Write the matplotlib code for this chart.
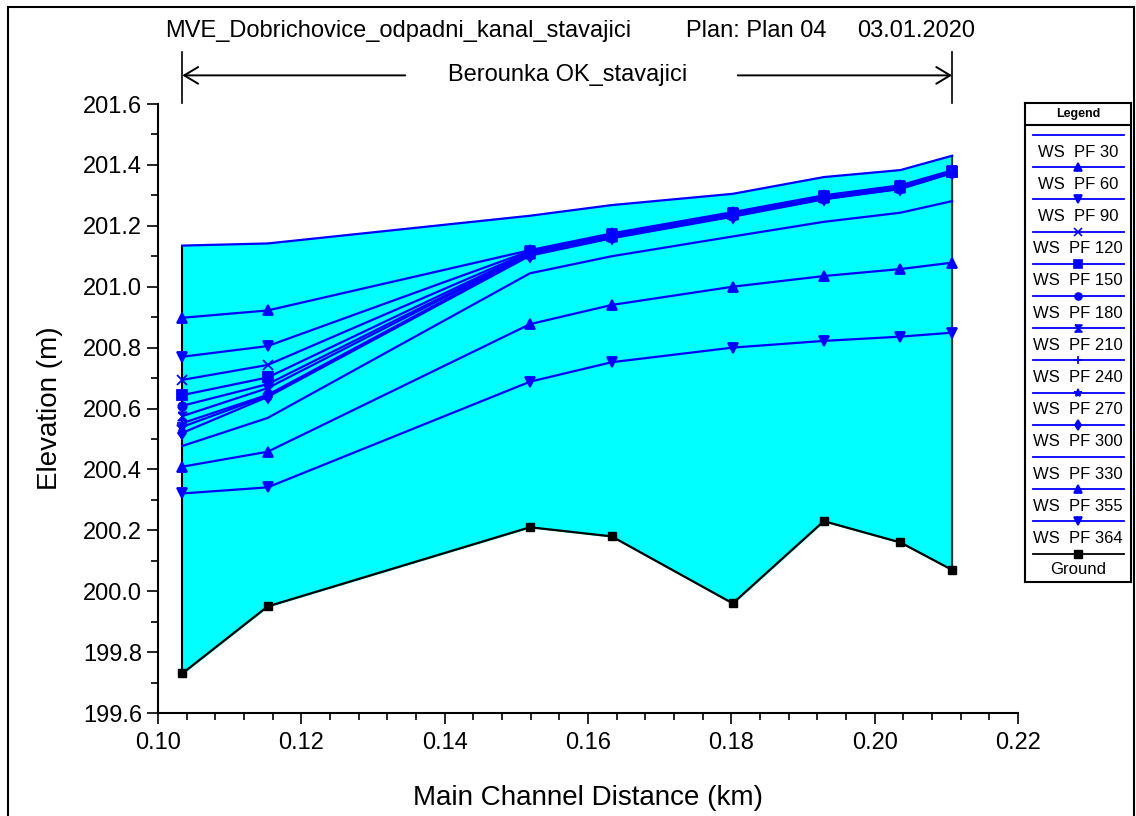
import numpy as np
import matplotlib.pyplot as plt
import matplotlib.transforms as mtransforms
from matplotlib.patches import Rectangle

plt.rcParams['font.family'] = ['Liberation Sans', 'DejaVu Sans']

# river stations (km)
stations = [0.1034, 0.1153, 0.1519, 0.1633, 0.1802, 0.1929, 0.2036, 0.2108]

ground = [199.73, 199.95, 200.21, 200.18, 199.96, 200.23, 200.16, 200.07]

# water surface for each profile
pf30 = [201.135, 201.142, 201.233, 201.268, 201.305, 201.360, 201.383, 201.430]
pf60 = [200.898, 200.922, 201.120, 201.175, 201.245, 201.300, 201.333, 201.382]
pf90 = [200.770, 200.805, 201.117, 201.172, 201.243, 201.298, 201.331, 201.380]
pf120 = [200.694, 200.743, 201.114, 201.170, 201.241, 201.296, 201.329, 201.379]
pf150 = [200.644, 200.702, 201.112, 201.168, 201.239, 201.295, 201.328, 201.378]
pf180 = [200.609, 200.680, 201.110, 201.166, 201.237, 201.293, 201.326, 201.377]
pf210 = [200.575, 200.667, 201.108, 201.164, 201.235, 201.291, 201.325, 201.376]
pf240 = [200.552, 200.645, 201.106, 201.162, 201.234, 201.290, 201.324, 201.375]
pf270 = [200.540, 200.642, 201.104, 201.161, 201.232, 201.288, 201.322, 201.374]
pf300 = [200.520, 200.638, 201.102, 201.159, 201.230, 201.287, 201.321, 201.373]
pf330 = [200.477, 200.569, 201.044, 201.100, 201.165, 201.213, 201.243, 201.281]
pf355 = [200.409, 200.458, 200.877, 200.940, 201.000, 201.035, 201.058, 201.079]
pf364 = [200.321, 200.341, 200.688, 200.752, 200.800, 200.822, 200.836, 200.849]

profile_names = ['PF 30', 'PF 60', 'PF 90', 'PF 120', 'PF 150', 'PF 180', 'PF 210',
                 'PF 240', 'PF 270', 'PF 300', 'PF 330', 'PF 355', 'PF 364']
ws_lines = [pf30, pf60, pf90, pf120, pf150, pf180, pf210,
            pf240, pf270, pf300, pf330, pf355, pf364]

hourglass = [(-1, 1), (1, 1), (-1, -1), (1, -1), (-1, 1)]
marker_list = [None, '^', 'v', 'x', 's', 'o', hourglass, '+', '*', 'd', None, '^', 'v']
marker_sizes = [0, 7, 7, 7, 7, 6, 6, 7, 7, 6, 0, 7, 7]

W, H = 1136, 816
fig = plt.figure(figsize=(W / 100, H / 100), dpi=100)

def px_rect(x0, y0, x1, y1):
    # pixel box (top-left origin) -> figure fraction rect
    return [x0 / W, (H - y1) / H, (x1 - x0) / W, (y1 - y0) / H]

ax = fig.add_axes(px_rect(158, 104, 1018, 713))

# water area
ax.fill_between(stations, ground, pf30, color='#00FFFF', zorder=1)
ax.plot([stations[0], stations[0]], [ground[0], pf30[0]], color='black', lw=1.5, zorder=2)
ax.plot([stations[-1], stations[-1]], [ground[-1], pf30[-1]], color='#333333', lw=1.5, zorder=2)

for ws, mk, ms in zip(ws_lines, marker_list, marker_sizes):
    ax.plot(stations, ws, color='#0000FF', lw=1.6, marker=mk, markersize=ms,
            markeredgewidth=1.3, zorder=3)

ax.plot(stations, ground, color='black', lw=1.6, marker='s', markersize=6, zorder=4)

ax.set_xlim(0.10, 0.22)
ax.set_ylim(199.6, 201.6)
ax.set_xticks(np.arange(0.10, 0.2201, 0.02))
ax.set_xticks(np.arange(0.10, 0.2201, 0.004), minor=True)
ax.set_yticks(np.arange(199.6, 201.601, 0.2))
ax.set_yticks(np.arange(199.6, 201.601, 0.1), minor=True)
ax.xaxis.set_major_formatter(plt.FormatStrFormatter('%.2f'))
ax.yaxis.set_major_formatter(plt.FormatStrFormatter('%.1f'))
ax.tick_params(which='major', length=8, width=1.2, labelsize=17, direction='out')
ax.tick_params(which='minor', length=5, width=1.2, direction='out')
ax.tick_params(axis='x', pad=6)
for s in ['top', 'right']:
    ax.spines[s].set_visible(False)
for s in ['left', 'bottom']:
    ax.spines[s].set_linewidth(1.5)
ax.set_facecolor('white')

ax.set_xlabel('Main Channel Distance (km)', fontsize=20, labelpad=22)
ax.set_ylabel('Elevation (m)', fontsize=20, labelpad=14)

# reach dimension line
trans = mtransforms.blended_transform_factory(ax.transData, ax.transAxes)
for xs in [stations[0], stations[-1]]:
    ax.plot([xs, xs], [1.002, 1.085], color='black', lw=1.2, transform=trans, clip_on=False)
mid = (stations[0] + stations[-1]) / 2
ax.text(mid, 1.047, 'Berounka OK_stavajici', transform=trans, ha='center', va='center', fontsize=17)
arrow = dict(arrowstyle='->,head_length=1.0,head_width=0.6', lw=1.4, color='black',
             shrinkA=0, shrinkB=0)
ax.annotate('', xy=(stations[0], 1.047), xytext=(0.1345, 1.047), xycoords=trans,
            textcoords=trans, arrowprops=arrow)
ax.annotate('', xy=(stations[-1], 1.047), xytext=(0.1809, 1.047), xycoords=trans,
            textcoords=trans, arrowprops=arrow)

# title pieces
fig.text(165 / W, 1 - 31 / H, 'MVE_Dobrichovice_odpadni_kanal_stavajici', fontsize=17, va='center', ha='left')
fig.text(686 / W, 1 - 31 / H, 'Plan: Plan 04', fontsize=17, va='center', ha='left')
fig.text(857 / W, 1 - 31 / H, '03.01.2020', fontsize=17, va='center', ha='left')

# outer border
fig.patches.append(Rectangle((8 / W, -0.01), (1134 - 8) / W, 1 - 7 / H + 0.01,
                             transform=fig.transFigure, fill=False, lw=1.5, edgecolor='black'))

# legend box
lg = fig.add_axes(px_rect(1025, 103, 1131, 582))
lg.set_xlim(1025, 1131)
lg.set_ylim(582, 103)
lg.set_xticks([])
lg.set_yticks([])
for s in lg.spines.values():
    s.set_linewidth(1.5)
lg.text(1078, 114, 'Legend', fontsize=9, fontweight='bold', ha='center', va='center')
lg.plot([1025, 1131], [125, 125], color='black', lw=1.5)
step = 32.2
for i, (name, mk, ms) in enumerate(zip(profile_names, marker_list, marker_sizes)):
    yl = 135 + step * i
    lg.plot([1033, 1124], [yl, yl], color='#0000FF', lw=1.3)
    if mk is not None:
        lg.plot([1078], [yl], color='#0000FF', marker=mk, markersize=ms - 1, markeredgewidth=1.2)
    lg.text(1078, yl + 17, 'WS  ' + name, fontsize=12, ha='center', va='center')
yl = 135 + step * 13
lg.plot([1033, 1124], [yl, yl], color='black', lw=1.3)
lg.plot([1078], [yl], color='black', marker='s', markersize=6)
lg.text(1078, yl + 16, 'Ground', fontsize=12, ha='center', va='center')

fig.savefig('out.png', dpi=100)
